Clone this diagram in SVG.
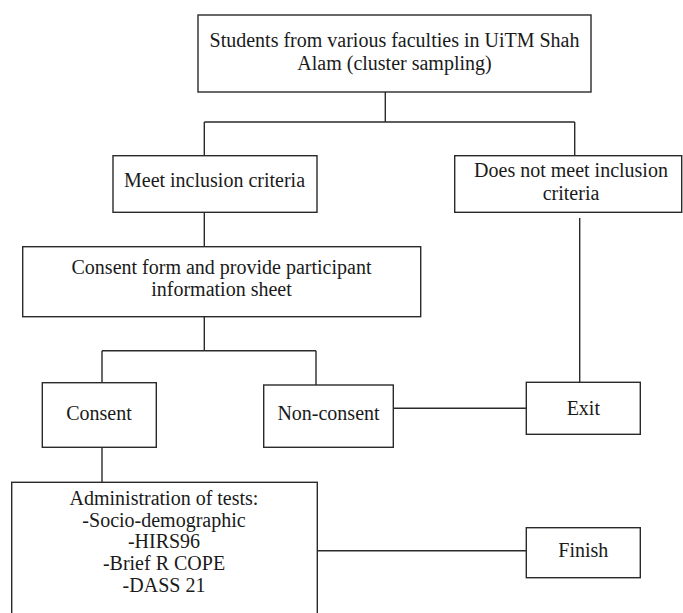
<svg xmlns="http://www.w3.org/2000/svg" width="683" height="613" viewBox="0 0 683 613">
<style>
.box{fill:#fff;stroke:#2a2a2a;stroke-width:1.4}
.lbl{font-family:'Liberation Serif','Tinos','DejaVu Serif',serif;font-size:20px;fill:#1a1a1a;text-anchor:middle}
.con{fill:none;stroke:#2a2a2a;stroke-width:1.4}
</style>
<rect width="683" height="613" fill="#fff"/>
<g id="connectors">
<path class="con" d="M385.3,90 V122 M204.3,122 H574.7 M204.3,122 V155.7 M574.7,122 V155.7"/>
<path class="con" d="M204.3,212.3 V246.7"/>
<path class="con" d="M204.3,316.7 V350.7 M102,350.7 H316 M102,350.7 V382.7 M316,350.7 V385"/>
<path class="con" d="M579.7,218 V382.3"/>
<path class="con" d="M393.3,408.3 H526.3"/>
<path class="con" d="M102,447.3 V482.3"/>
<path class="con" d="M317.3,550.7 H526.3"/>
</g>
<g id="students">
<rect class="box" x="198" y="15" width="393" height="77"/>
<text class="lbl" x="394.5" y="47" font-family="Liberation Serif, serif">Students from various faculties in UiTM Shah</text>
<text class="lbl" x="394.5" y="70" font-family="Liberation Serif, serif">Alam (cluster sampling)</text>
</g>
<g id="meet">
<rect class="box" x="113" y="155.7" width="204" height="56.6"/>
<text class="lbl" x="214.5" y="187.3">Meet inclusion criteria</text>
</g>
<g id="notmeet">
<rect class="box" x="454.7" y="155.7" width="227" height="56.6"/>
<text class="lbl" x="571" y="177">Does not meet inclusion</text>
<text class="lbl" x="571" y="200">criteria</text>
</g>
<g id="consentform">
<rect class="box" x="22.7" y="246.7" width="398" height="70"/>
<text class="lbl" x="221.5" y="274">Consent form and provide participant</text>
<text class="lbl" x="221.5" y="296">information sheet</text>
</g>
<g id="consent">
<rect class="box" x="42.3" y="382.7" width="114" height="64.6"/>
<text class="lbl" x="99" y="420">Consent</text>
</g>
<g id="nonconsent">
<rect class="box" x="263.7" y="385" width="129.6" height="62.3"/>
<text class="lbl" x="328.5" y="420">Non-consent</text>
</g>
<g id="exit">
<rect class="box" x="526.3" y="382.3" width="114" height="52"/>
<text class="lbl" x="583.3" y="415">Exit</text>
</g>
<g id="admin">
<rect class="box" x="11.7" y="482.3" width="305.6" height="145"/>
<text class="lbl" x="164" y="505">Administration of tests:</text>
<text class="lbl" x="164" y="526.7">-Socio-demographic</text>
<text class="lbl" x="164" y="548.3">-HIRS96</text>
<text class="lbl" x="164" y="570">-Brief R COPE</text>
<text class="lbl" x="164" y="591.7">-DASS 21</text>
</g>
<g id="finish">
<rect class="box" x="526.3" y="527.7" width="114" height="50"/>
<text class="lbl" x="583.3" y="557">Finish</text>
</g>
</svg>
